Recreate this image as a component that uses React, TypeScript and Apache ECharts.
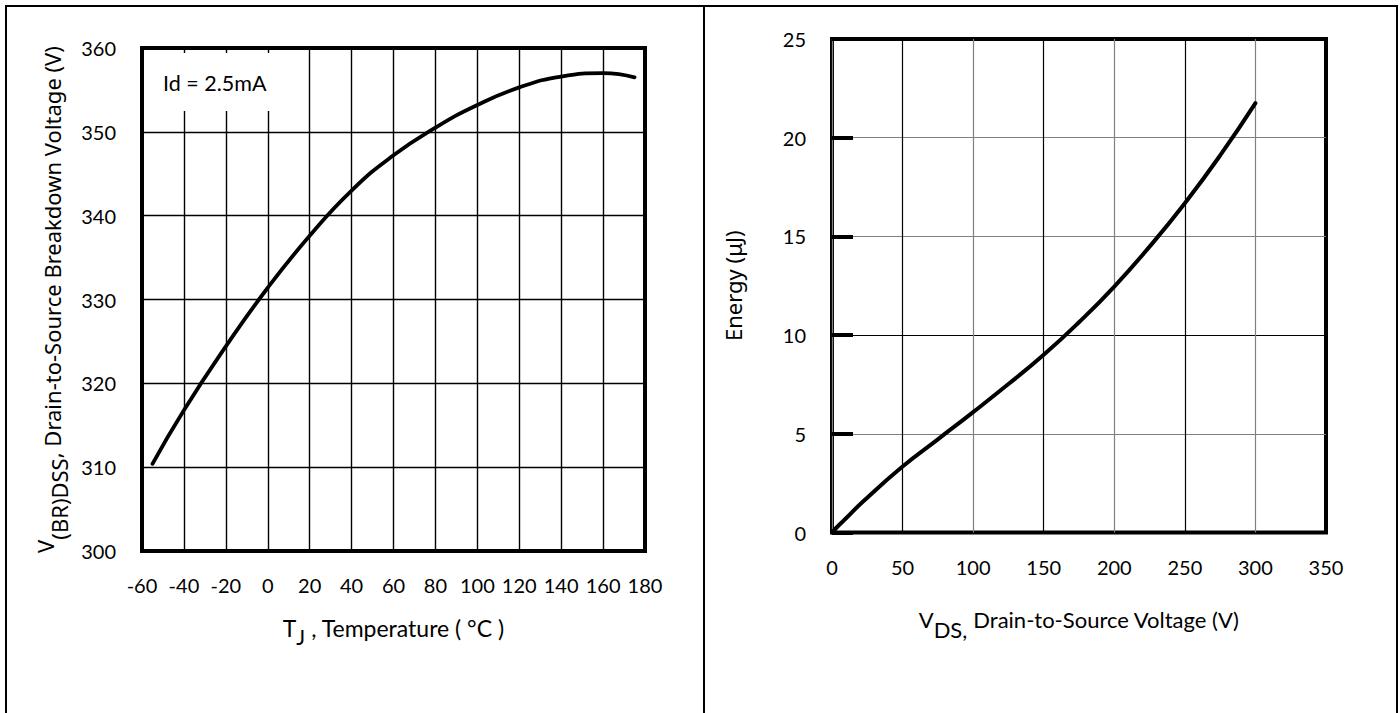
import React, { useEffect, useRef } from "react";
import * as echarts from "echarts";

// Left chart: breakdown voltage vs junction temperature
const tempC = [-55, -40, -20, 0, 20, 40, 60, 80, 100, 120, 140, 160, 175];
const vbrDss = [310.4, 316.8, 324.4, 331.4, 337.6, 343.0, 347.2, 350.5, 353.2, 355.3, 356.6, 357.0, 356.5];
const tempTicks = { min: -60, max: 180, interval: 20 };
const voltTicks = { min: 300, max: 360, interval: 10 };

// Right chart: energy vs drain-to-source voltage
const vds = [0, 5, 10, 22, 50, 75, 100, 125, 150, 175, 200, 225, 250, 275, 300];
const energy = [0, 0.38, 0.72, 1.57, 3.34, 4.72, 6.1, 7.52, 9.0, 10.65, 12.46, 14.48, 16.68, 19.1, 21.75];
const vdsTicks = { min: 0, max: 350, interval: 50 };
const energyTicks = { min: 0, max: 25, interval: 5 };

const annotation = "Id = 2.5mA";

const LATO = "Lato";
const NOTO = "Noto Sans";

export default function App() {
  const ref = useRef<HTMLDivElement>(null);
  useEffect(() => {
    if (!ref.current) return;
    const chart = echarts.init(ref.current, undefined, { renderer: "svg" });
    const tickLabel = { color: "#000", fontFamily: LATO, fontSize: 20 };
    chart.setOption({
      animation: false,
      backgroundColor: "#fff",
      grid: [
        { left: 142, top: 48, width: 503, height: 503, show: true, borderColor: "#000", borderWidth: 4, backgroundColor: "transparent" },
        { left: 832, top: 39, width: 494, height: 493.5, show: true, borderColor: "#000", borderWidth: 4, backgroundColor: "transparent" },
      ],
      xAxis: [
        {
          gridIndex: 0,
          type: "value",
          min: tempTicks.min,
          max: tempTicks.max,
          interval: tempTicks.interval,
          axisLine: { show: false },
          axisTick: { show: false },
          axisLabel: { ...tickLabel, margin: 24 },
          splitLine: { show: true, lineStyle: { color: "#000", width: 1.4 } },
          name: "{a|T}{s|J}{a| , Temperature ( °C )}",
          nameLocation: "middle",
          nameGap: 58,
          nameTextStyle: {
            rich: {
              a: { fontFamily: LATO, fontSize: 23, color: "#000", lineHeight: 38, verticalAlign: "middle" },
              s: { fontFamily: LATO, fontSize: 21, color: "#000", lineHeight: 38, verticalAlign: "bottom" },
            },
          },
        },
        {
          gridIndex: 1,
          type: "value",
          min: vdsTicks.min,
          max: vdsTicks.max,
          interval: vdsTicks.interval,
          axisLine: { show: false },
          axisTick: { show: false },
          axisLabel: { ...tickLabel, margin: 24 },
          splitLine: { show: true, lineStyle: { color: ["#808080", "#000"], width: 1.2 } },
          name: "{a|V}{s|DS,}{a| Drain-to-Source Voltage (V)}",
          nameLocation: "middle",
          nameGap: 66,
          nameTextStyle: {
            rich: {
              a: { fontFamily: LATO, fontSize: 22, color: "#000", lineHeight: 42, verticalAlign: "middle" },
              s: { fontFamily: LATO, fontSize: 22, color: "#000", lineHeight: 42, verticalAlign: "bottom" },
            },
          },
        },
      ],
      yAxis: [
        {
          gridIndex: 0,
          type: "value",
          min: voltTicks.min,
          max: voltTicks.max,
          interval: voltTicks.interval,
          axisLine: { show: false },
          axisTick: { show: false },
          axisLabel: { ...tickLabel, margin: 26 },
          splitLine: { show: true, lineStyle: { color: "#000", width: 1.4 } },
          name: "{t|V}{s|(BR)DSS}{a|, Drain-to-Source Breakdown Voltage (V)}",
          nameLocation: "middle",
          nameGap: 72,
          nameTextStyle: {
            rich: {
              t: { fontFamily: NOTO, fontSize: 22, color: "#000", lineHeight: 36, verticalAlign: "top" },
              s: { fontFamily: NOTO, fontSize: 22, color: "#000", lineHeight: 36, verticalAlign: "bottom" },
              a: { fontFamily: NOTO, fontSize: 22, color: "#000", lineHeight: 36, verticalAlign: "middle" },
            },
          },
        },
        {
          gridIndex: 1,
          type: "value",
          min: energyTicks.min,
          max: energyTicks.max,
          interval: energyTicks.interval,
          axisLine: { show: false },
          axisTick: { show: true, inside: true, length: 21, lineStyle: { color: "#000", width: 4 } },
          axisLabel: { ...tickLabel, margin: 26 },
          splitLine: { show: true, lineStyle: { color: ["#000", "#808080", "#000", "#808080", "#808080", "#000"], width: 1.2 } },
          name: "Energy (μJ)",
          nameLocation: "middle",
          nameGap: 88,
          nameTextStyle: { fontFamily: NOTO, fontSize: 22, color: "#000" },
        },
      ],
      series: [
        {
          type: "line",
          xAxisIndex: 0,
          yAxisIndex: 0,
          data: tempC.map((t, i) => [t, vbrDss[i]]),
          smooth: 0.5,
          showSymbol: false,
          lineStyle: { color: "#000", width: 3.8, cap: "round" },
          z: 5,
        },
        {
          type: "line",
          xAxisIndex: 1,
          yAxisIndex: 1,
          data: vds.map((v, i) => [v, energy[i]]),
          smooth: 0.5,
          showSymbol: false,
          lineStyle: { color: "#000", width: 4, cap: "round" },
          z: 5,
        },
      ],
      graphic: [
        {
          type: "rect",
          shape: { x: 6, y: 6, width: 1391, height: 730 },
          style: { fill: "none", stroke: "#000", lineWidth: 2 },
          z: 20,
          silent: true,
        },
        {
          type: "line",
          shape: { x1: 704, y1: 6, x2: 704, y2: 713 },
          style: { stroke: "#000", lineWidth: 2 },
          z: 20,
          silent: true,
        },
        {
          type: "rect",
          shape: { x: 145, y: 53, width: 143, height: 58 },
          style: { fill: "#fff" },
          z: 10,
          silent: true,
        },
        {
          type: "text",
          x: 163,
          y: 83,
          style: { text: annotation, fontFamily: LATO, fontSize: 21.5, fill: "#000", verticalAlign: "middle" },
          z: 11,
          silent: true,
        },
      ],
    });
    return () => chart.dispose();
  }, []);
  return <div ref={ref} style={{ position: "absolute", left: 0, top: 0, width: 1400, height: 713 }} />;
}
